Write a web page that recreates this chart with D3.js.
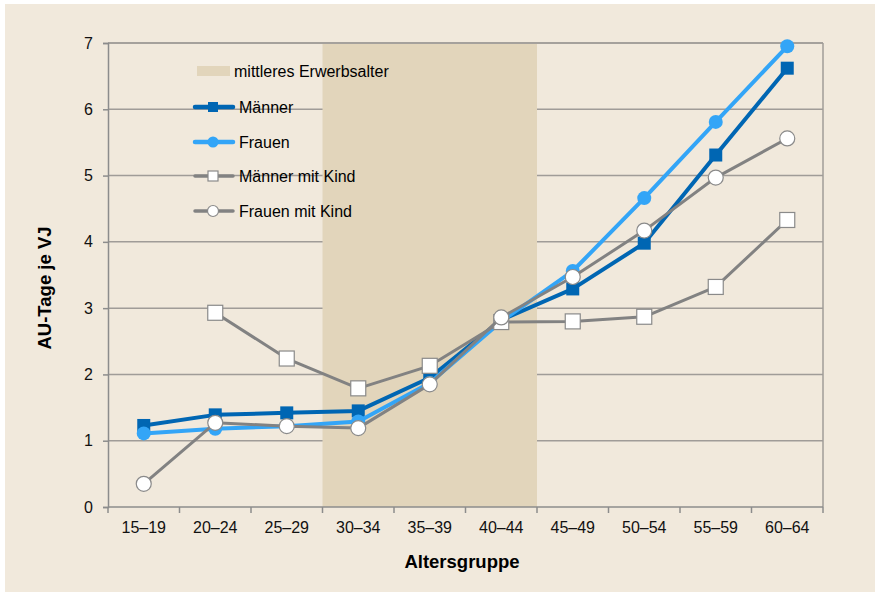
<!DOCTYPE html>
<html><head><meta charset="utf-8">
<script src="https://cdn.jsdelivr.net/npm/d3@7"></script>
<style>body{margin:0;background:#fff}svg{display:block}text{font-family:"Liberation Sans",Arial,sans-serif}</style>
</head><body>
<svg id="c" width="879" height="592"></svg>
<script>
const categories = ["15–19","20–24","25–29","30–34","35–39","40–44","45–49","50–54","55–59","60–64"];
const maenner = [1.23,1.39,1.42,1.45,1.95,2.82,3.29,3.98,5.31,6.62];
const frauen = [1.11,1.18,1.22,1.29,1.87,2.80,3.56,4.66,5.81,6.95];
const maennerKind = [null,2.93,2.24,1.79,2.13,2.79,2.80,2.87,3.32,4.33];
const frauenKind = [0.35,1.27,1.22,1.19,1.85,2.86,3.47,4.17,4.97,5.56];
const yTicks = [0,1,2,3,4,5,6,7];
const shadeRange = ["30–34","40–44"];
const legendLabels = ["mittleres Erwerbsalter","Männer","Frauen","Männer mit Kind","Frauen mit Kind"];

const svg = d3.select("#c");
svg.append("rect").attr("x",5).attr("y",4).attr("width",870).attr("height",588).attr("fill","#f1e9dc");

const L=108,R=823,T=43,B=507;
const x = d3.scaleBand().domain(categories).range([L,R]);
const y = d3.scaleLinear().domain([0,7]).range([B,T]);
const cx = c => x(c)+x.bandwidth()/2;

// gridlines
svg.append("g").selectAll("line").data(yTicks.slice(1)).join("line")
  .attr("x1",L).attr("x2",R).attr("y1",d=>y(d)).attr("y2",d=>y(d))
  .attr("stroke","#a09c98").attr("stroke-width",1.5);
// shade
svg.append("rect").attr("x",x(shadeRange[0])).attr("y",y(7)+1)
  .attr("width",x(shadeRange[1])+x.bandwidth()-x(shadeRange[0])).attr("height",B-y(7)-1)
  .attr("fill","#e2d5bb");
// right border & top
svg.append("line").attr("x1",R).attr("x2",R).attr("y1",T).attr("y2",B).attr("stroke","#a09c98").attr("stroke-width",1.5);
svg.append("line").attr("x1",L).attr("x2",R).attr("y1",T).attr("y2",T).attr("stroke","#a09c98").attr("stroke-width",1.5);

// axes
const yAxis = svg.append("g").attr("transform",`translate(${L},0)`)
  .call(d3.axisLeft(y).tickValues(yTicks).tickFormat(d3.format("d")).tickSize(5).tickPadding(10));
const xAxis = svg.append("g").attr("transform",`translate(0,${B})`)
  .call(d3.axisBottom(x).tickSize(0).tickPadding(15));
// band-boundary ticks
const bounds = categories.map(c=>x(c)).concat([R]);
svg.append("g").selectAll("line").data(bounds).join("line")
  .attr("x1",d=>d).attr("x2",d=>d).attr("y1",B).attr("y2",B+6)
  .attr("stroke","#8c8c8c").attr("stroke-width",1.5);
[yAxis,xAxis].forEach(g=>{
  g.select(".domain").attr("stroke","#8c8c8c").attr("stroke-width",1.5);
  g.selectAll(".tick line").attr("stroke","#8c8c8c").attr("stroke-width",1.5);
  g.selectAll("text").attr("font-size",16).attr("fill","#111").attr("font-family","'Liberation Sans',Arial,sans-serif");
});
xAxis.select(".domain").attr("d",`M${L},0H${R}`);

svg.append("text").attr("x",462).attr("y",568).attr("text-anchor","middle")
  .attr("font-weight","bold").attr("font-size",18.5).text("Altersgruppe");
svg.append("text").attr("transform",`translate(51,288) rotate(-90)`).attr("text-anchor","middle")
  .attr("font-weight","bold").attr("font-size",18.5).text("AU-Tage je VJ");

const series = [
  {vals:maenner, color:"#0066b3", w:4, marker:"square", fill:"#0066b3", size:13},
  {vals:frauen, color:"#33a5f7", w:4, marker:"circle", fill:"#33a5f7", size:7},
  {vals:maennerKind, color:"#828282", w:3, marker:"square", fill:"#ffffff", size:15},
  {vals:frauenKind, color:"#828282", w:3, marker:"circle", fill:"#ffffff", size:7.5},
];
const line = d3.line().defined(d=>d.v!=null).x(d=>cx(d.c)).y(d=>y(d.v));
function drawMarker(g, s, px, py){
  if(s.marker==="square"){
    g.append("rect").attr("x",px-s.size/2).attr("y",py-s.size/2).attr("width",s.size).attr("height",s.size)
      .attr("fill",s.fill).attr("stroke",s.fill==="#ffffff"?"#8a8a8a":s.fill).attr("stroke-width",s.fill==="#ffffff"?1.2:0);
  } else {
    g.append("circle").attr("cx",px).attr("cy",py).attr("r",s.size)
      .attr("fill",s.fill).attr("stroke",s.fill==="#ffffff"?"#8a8a8a":s.fill).attr("stroke-width",s.fill==="#ffffff"?1.2:0);
  }
}
series.forEach(s=>{
  const data = categories.map((c,i)=>({c,v:s.vals[i]}));
  const g = svg.append("g");
  g.append("path").datum(data).attr("d",line).attr("fill","none").attr("stroke",s.color).attr("stroke-width",s.w).attr("stroke-linejoin","round");
  data.filter(d=>d.v!=null).forEach(d=>drawMarker(g,s,cx(d.c),y(d.v)));
});

// legend
const lg = svg.append("g");
lg.append("rect").attr("x",197).attr("y",66).attr("width",33).attr("height",10).attr("fill","#e2d5bb");
lg.append("text").attr("x",234).attr("y",77).attr("font-size",16).text(legendLabels[0]);
const ly = [107,142,176,211];
series.forEach((s,i)=>{
  const g = lg.append("g");
  g.append("line").attr("x1",195).attr("x2",233).attr("y1",ly[i]).attr("y2",ly[i]).attr("stroke",s.color).attr("stroke-width",s.w+0.5).attr("stroke-linecap","round");
  const ms = Object.assign({},s,{size:s.marker==="square"?10:5.5});
  drawMarker(g,ms,213,ly[i]);
  g.append("text").attr("x",239).attr("y",ly[i]+6).attr("font-size",16).text(legendLabels[i+1]);
});
</script>
</body></html>
